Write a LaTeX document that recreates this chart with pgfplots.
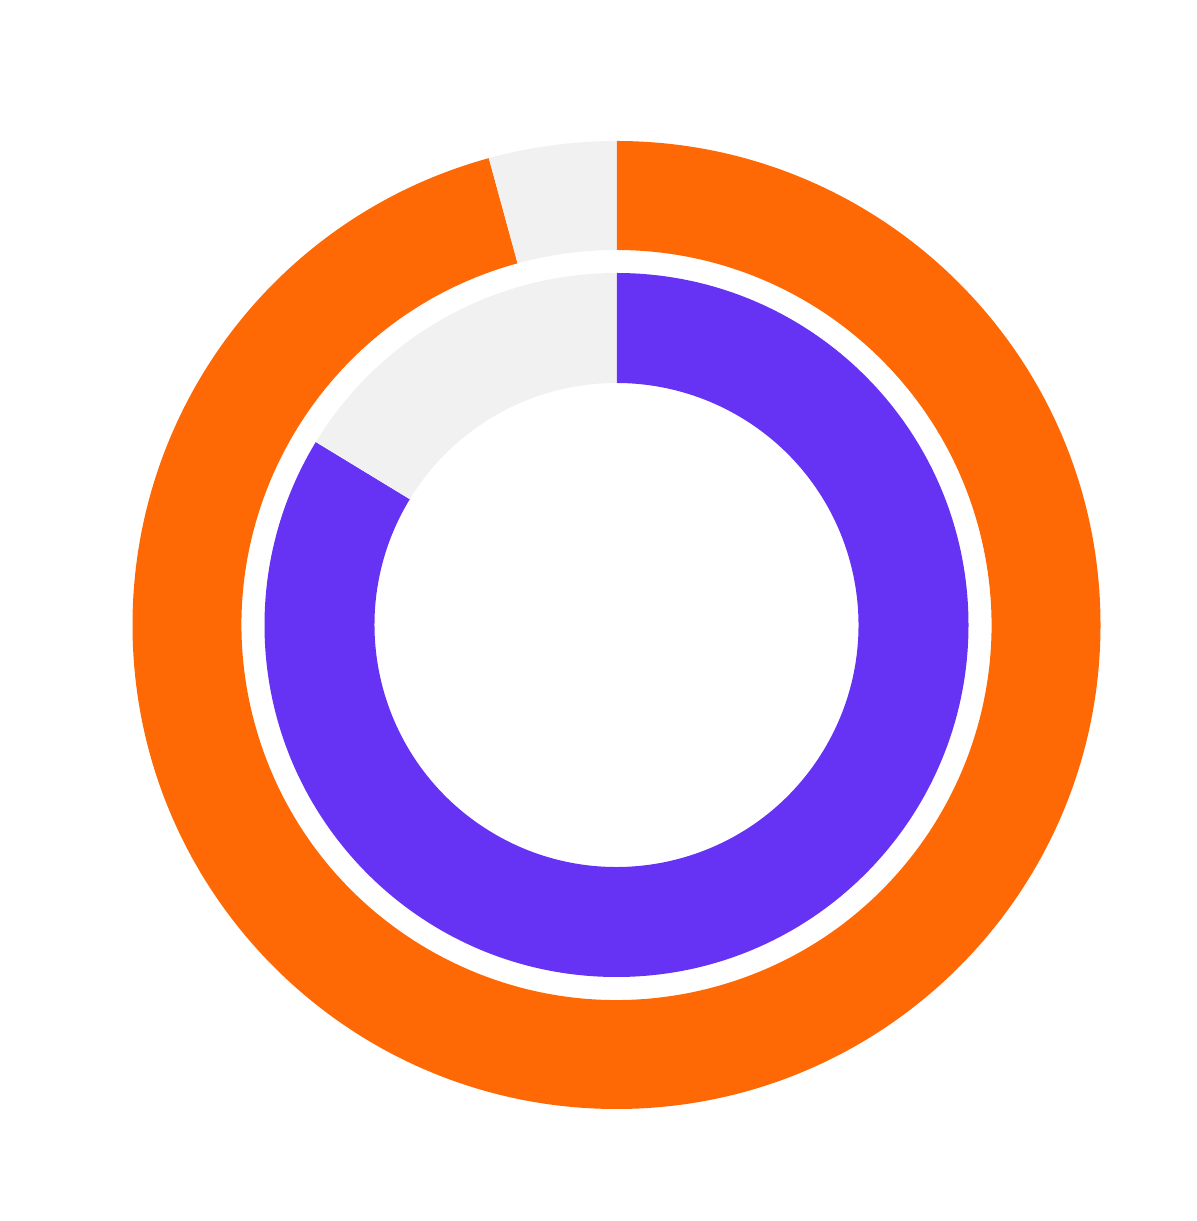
\documentclass[border=0pt]{standalone}
\usepackage{pgfplots}
\pgfplotsset{compat=1.18}
\definecolor{ringorange}{HTML}{FF6905}
\definecolor{ringpurple}{HTML}{6633F4}
\definecolor{ringgrey}{HTML}{F1F1F1}
% shares in percent, clockwise from the top
\def\outerring{95.75/ringorange,4.25/ringgrey}
\def\innerring{83.7/ringpurple,16.3/ringgrey}
% ring segment: start angle, end angle, inner radius, outer radius, colour
\newcommand\ringseg[5]{%
  \fill[#5] ($(c)+(#1:#4)$) arc[start angle=#1, end angle=#2, radius=#4]
    -- ($(c)+(#2:#3)$) arc[start angle=#2, end angle=#1, radius=#3] -- cycle;}
\newcommand\drawring[3]{%
  \def\acc{0}%
  \foreach \v/\col in #1 {%
    \pgfmathsetmacro\sa{90-3.6*\acc}%
    \pgfmathsetmacro\ea{90-3.6*(\acc+\v)}%
    \ringseg{\sa}{\ea}{#2}{#3}{\col}%
    \pgfmathsetmacro\nacc{\acc+\v}%
    \global\let\acc\nacc
  }}
\usetikzlibrary{calc}
\begin{document}
\begin{tikzpicture}
\begin{axis}[
  x=0.5pt, y=0.5pt,
  xmin=0, xmax=1196, ymin=0, ymax=1221,
  hide axis, clip=false, scale only axis,
]
\coordinate (c) at (axis cs:616.5,596);
\coordinate (sw) at (axis cs:0,0);
\coordinate (ne) at (axis cs:1196,1221);
\end{axis}
\path[use as bounding box] (sw) rectangle (ne);
\drawring{\outerring}{187.5pt}{242pt}
\drawring{\innerring}{121pt}{176pt}
\end{tikzpicture}
\end{document}
